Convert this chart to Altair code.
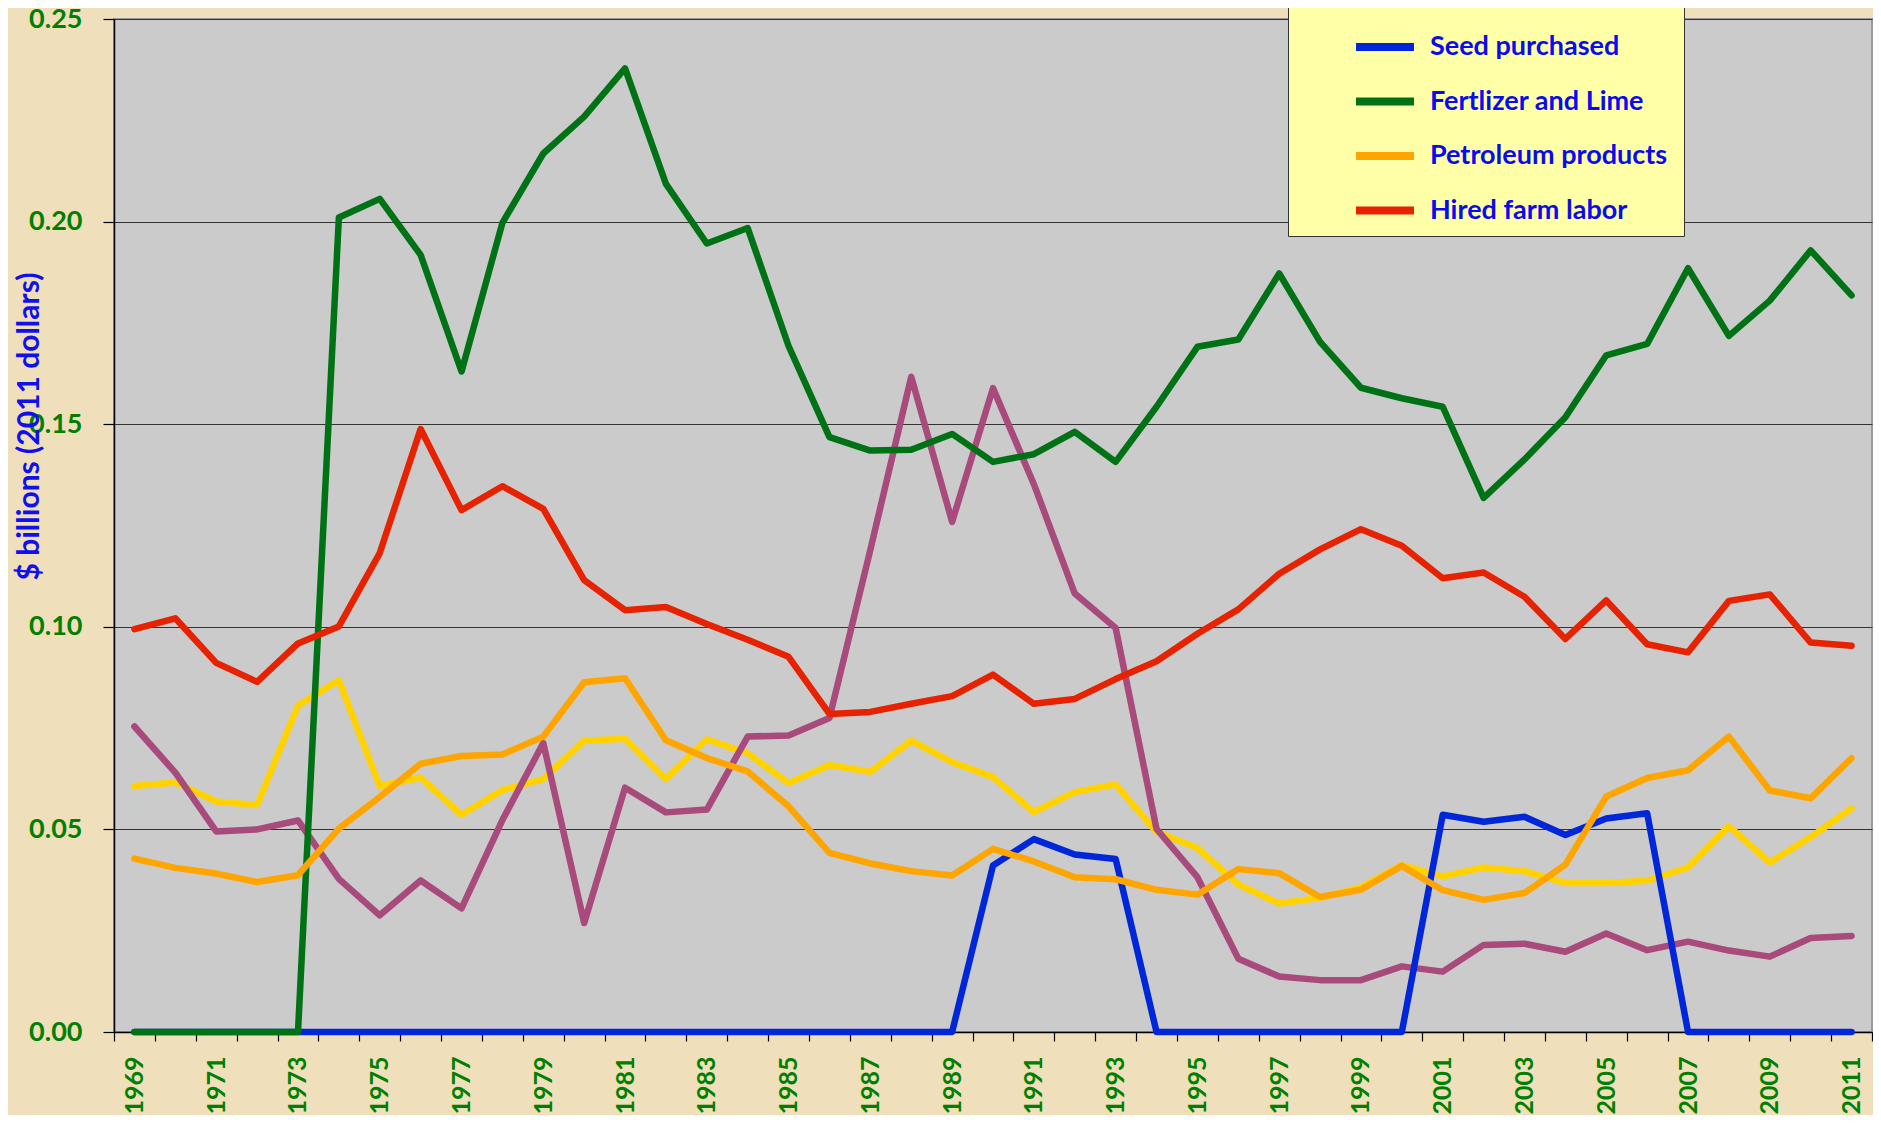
import altair as alt
import pandas as pd

years = list(range(1969, 2012))

feed = [0.0607, 0.0616, 0.0569, 0.0560, 0.0806, 0.0868, 0.0607, 0.0628, 0.0536, 0.0597,
        0.0624, 0.0719, 0.0724, 0.0624, 0.0722, 0.0688, 0.0614, 0.0659, 0.0642, 0.0719,
        0.0666, 0.0629, 0.0543, 0.0592, 0.0611, 0.0494, 0.0454, 0.0364, 0.0317, 0.0331,
        0.0357, 0.0412, 0.0384, 0.0406, 0.0397, 0.0368, 0.0368, 0.0373, 0.0406, 0.0508,
        0.0418, 0.0481, 0.0552]
livestock = [0.0754, 0.0640, 0.0495, 0.0500, 0.0522, 0.0378, 0.0288, 0.0374, 0.0305, 0.0523,
             0.0713, 0.0269, 0.0603, 0.0542, 0.0549, 0.0729, 0.0732, 0.0775, 0.1190, 0.1617,
             0.1259, 0.1589, 0.1352, 0.1082, 0.0997, 0.0501, 0.0382, 0.0181, 0.0137, 0.0128,
             0.0128, 0.0162, 0.0149, 0.0215, 0.0218, 0.0198, 0.0243, 0.0202, 0.0223, 0.0201,
             0.0186, 0.0232, 0.0237]
seed = [0.0, 0.0, 0.0, 0.0, 0.0, 0.0, 0.0, 0.0, 0.0, 0.0,
        0.0, 0.0, 0.0, 0.0, 0.0, 0.0, 0.0, 0.0, 0.0, 0.0,
        0.0, 0.0411, 0.0476, 0.0438, 0.0427, 0.0, 0.0, 0.0, 0.0, 0.0,
        0.0, 0.0, 0.0536, 0.0519, 0.0531, 0.0486, 0.0527, 0.0540, 0.0, 0.0,
        0.0, 0.0, 0.0]
fert = [0.0, 0.0, 0.0, 0.0, 0.0, 0.2010, 0.2056, 0.1918, 0.1630, 0.1997,
        0.2168, 0.2259, 0.2378, 0.2093, 0.1946, 0.1984, 0.1693, 0.1468, 0.1435, 0.1437,
        0.1476, 0.1407, 0.1426, 0.1481, 0.1407, 0.1543, 0.1691, 0.1709, 0.1872, 0.1703,
        0.1590, 0.1564, 0.1543, 0.1318, 0.1413, 0.1517, 0.1670, 0.1698, 0.1885, 0.1718,
        0.1805, 0.1929, 0.1818]
petro = [0.0428, 0.0405, 0.0391, 0.0370, 0.0387, 0.0502, 0.0580, 0.0662, 0.0681, 0.0685,
         0.0729, 0.0863, 0.0873, 0.0720, 0.0676, 0.0643, 0.0557, 0.0442, 0.0416, 0.0397,
         0.0386, 0.0452, 0.0421, 0.0382, 0.0377, 0.0351, 0.0339, 0.0402, 0.0392, 0.0333,
         0.0351, 0.0410, 0.0350, 0.0326, 0.0343, 0.0413, 0.0581, 0.0627, 0.0646, 0.0729,
         0.0596, 0.0577, 0.0676]
labor = [0.0994, 0.1021, 0.0911, 0.0864, 0.0959, 0.1001, 0.1182, 0.1488, 0.1288, 0.1347,
         0.1291, 0.1115, 0.1041, 0.1049, 0.1007, 0.0968, 0.0926, 0.0785, 0.0790, 0.0810,
         0.0829, 0.0882, 0.0810, 0.0822, 0.0871, 0.0915, 0.0983, 0.1043, 0.1131, 0.1191,
         0.1241, 0.1200, 0.1120, 0.1134, 0.1074, 0.0970, 0.1065, 0.0957, 0.0937, 0.1064,
         0.1080, 0.0961, 0.0953]

series_names = ["Feed purchased", "Livestock purchased", "Seed purchased",
                "Fertlizer and Lime", "Petroleum products", "Hired farm labor"]
series_values = [feed, livestock, seed, fert, petro, labor]
series_colors = ["#FFD200", "#A84A7B", "#0026DA", "#007216", "#FFA500", "#E62200"]
y_ticks = [0.0, 0.05, 0.10, 0.15, 0.20, 0.25]

rows = []
for name, vals in zip(series_names, series_values):
    for yr, v in zip(years, vals):
        rows.append({"year": yr, "series": name, "value": v})
df = pd.DataFrame(rows)

FONT = "Lato"

x_enc = alt.X(
    "year:O",
    bandPosition=0.5,
    scale=alt.Scale(type="band", paddingInner=0, paddingOuter=0),
    axis=alt.Axis(
        title=None,
        labelAngle=270,
        labelExpr="datum.value % 2 == 1 ? datum.label : ''",
        labelOverlap=False,
        labelFont=FONT, labelFontWeight="bold", labelFontSize=25, labelColor="#008000",
        labelPadding=15,
        tickBand="extent", tickSize=9, tickColor="#000000", tickWidth=1.2,
        domainColor="#000000", domainWidth=1.5,
        grid=False,
    ),
)
y_enc = alt.Y(
    "value:Q",
    scale=alt.Scale(domain=[0, 0.25], nice=False),
    axis=alt.Axis(
        values=y_ticks,
        format=".2f",
        title="$ billions (2011 dollars)",
        titleFont=FONT, titleFontWeight="bold", titleFontSize=30, titleColor="#1010EE",
        titleX=-76, titleY=407, titleBaseline="alphabetic", titleAngle=270,
        labelFont=FONT, labelFontWeight="bold", labelFontSize=27, labelColor="#008000",
        labelPadding=21,
        tickSize=11, tickColor="#000000", tickWidth=1.2,
        domainColor="#000000", domainWidth=1.5,
        grid=True, gridColor="#333333", gridWidth=1,
    ),
)
color_enc = alt.Color(
    "series:N",
    scale=alt.Scale(domain=series_names, range=series_colors),
    legend=alt.Legend(
        title=None,
        orient="none", legendX=1174, legendY=-123,
        fillColor="#FFFFA8", strokeColor="#333333",
        padding=9, symbolOffset=55,
        symbolType="stroke", symbolSize=3364, symbolStrokeWidth=8,
        labelFont=FONT, labelFontWeight="bold", labelFontSize=27, labelColor="#0A0AEE",
        labelOffset=12, labelLimit=800,
        rowPadding=5.5,
    ),
)

base = alt.Chart(df).mark_line(strokeWidth=6.5, strokeCap="round", strokeJoin="round").encode(
    x=x_enc, y=y_enc, color=color_enc
)

layers = [base.transform_filter(alt.datum.series == n) for n in series_names]

chart = alt.layer(*layers).properties(
    width=1758,
    height=1013,
    background="#EFDFBA",
    padding={"left": 106, "top": 11, "right": 1, "bottom": 83},
    autosize=alt.AutoSizeParams(type="none"),
).configure_view(
    fill="#CBCBCB", stroke="#9A9A9A", strokeWidth=2
)

chart.save("out.html", embed_options={"renderer": "svg", "actions": False})
